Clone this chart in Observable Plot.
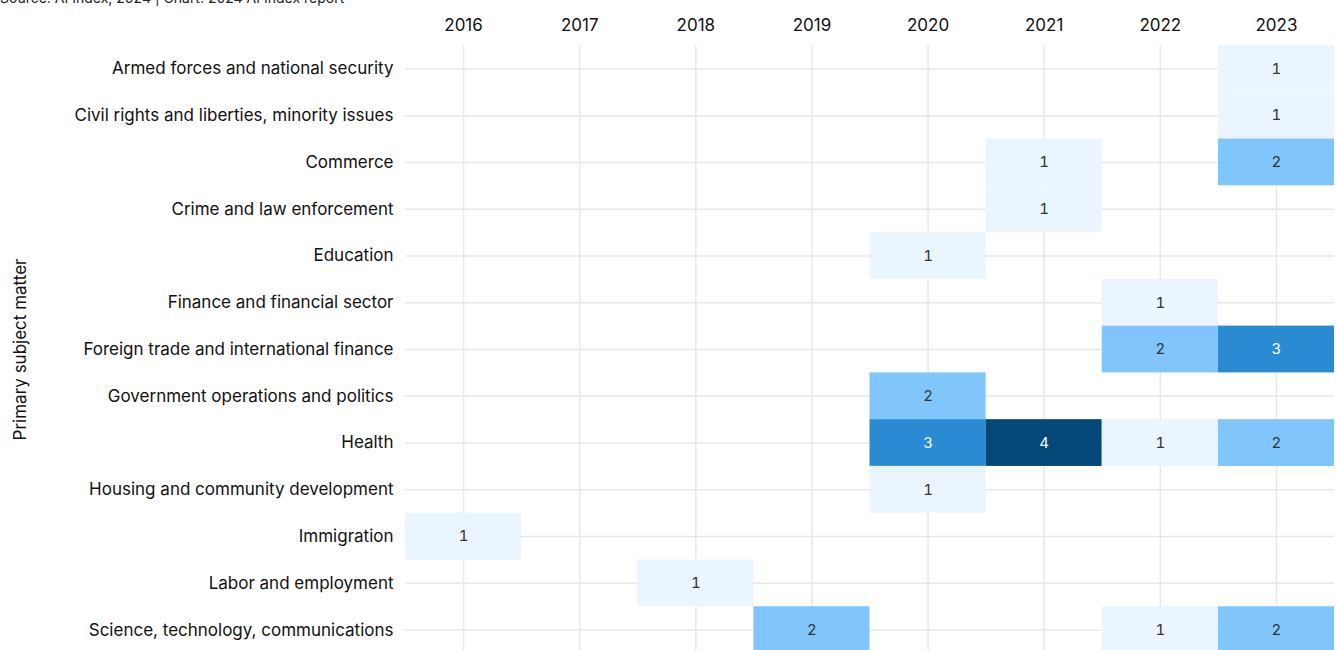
<!DOCTYPE html>
<html>
<head>
<meta charset="utf-8">
<script src="https://cdn.jsdelivr.net/npm/d3@7"></script>
<script src="https://cdn.jsdelivr.net/npm/@observablehq/plot@0.6"></script>
<style>
  html, body { margin: 0; padding: 0; background: #fff; overflow: hidden; }
  body { width: 1336px; height: 650px; position: relative; font-family: Inter, "Noto Sans", sans-serif; }
  #source { position: absolute; left: 0; top: -11px; font-size: 14px; color: #222; white-space: nowrap; }
  #chart { position: absolute; left: 0; top: 0; }
</style>
</head>
<body>
<div id="source">Source: AI Index, 2024 | Chart: 2024 AI Index report</div>
<div id="chart"></div>
<script>
const subjects = [
  "Armed forces and national security",
  "Civil rights and liberties, minority issues",
  "Commerce",
  "Crime and law enforcement",
  "Education",
  "Finance and financial sector",
  "Foreign trade and international finance",
  "Government operations and politics",
  "Health",
  "Housing and community development",
  "Immigration",
  "Labor and employment",
  "Science, technology, communications"
];
const years = ["2016", "2017", "2018", "2019", "2020", "2021", "2022", "2023"];

const cellSubject = [
  "Armed forces and national security",
  "Civil rights and liberties, minority issues",
  "Commerce", "Commerce",
  "Crime and law enforcement",
  "Education",
  "Finance and financial sector",
  "Foreign trade and international finance", "Foreign trade and international finance",
  "Government operations and politics",
  "Health", "Health", "Health", "Health",
  "Housing and community development",
  "Immigration",
  "Labor and employment",
  "Science, technology, communications", "Science, technology, communications", "Science, technology, communications"
];
const cellYear = [
  "2023",
  "2023",
  "2021", "2023",
  "2021",
  "2020",
  "2022",
  "2022", "2023",
  "2020",
  "2020", "2021", "2022", "2023",
  "2020",
  "2016",
  "2018",
  "2019", "2022", "2023"
];
const cellCount = [1, 1, 1, 2, 1, 1, 1, 2, 3, 2, 3, 4, 1, 2, 1, 1, 1, 2, 1, 2];

const data = cellCount.map((c, i) => ({subject: cellSubject[i], year: cellYear[i], count: c}));

const chart = Plot.plot({
  width: 1336,
  height: 653,
  marginTop: 45,
  marginBottom: 0,
  marginLeft: 405,
  marginRight: 2,
  style: {fontFamily: "Inter, 'Noto Sans', sans-serif", fontSize: "17px", color: "#111", background: "transparent"},
  x: {domain: years, padding: 0, round: false, axis: "top", tickSize: 0, tickPadding: 15, label: null},
  y: {domain: subjects, padding: 0, round: false, tickSize: 0, tickPadding: 12, label: "Primary subject matter", labelAnchor: "center", labelOffset: 392, labelArrow: "none"},
  color: {type: "ordinal", domain: [1, 2, 3, 4], range: ["#ebf5ff", "#80c6fc", "#2a8ad2", "#034877"]},
  marks: [
    Plot.gridX(years, {stroke: "#e8e8e8", strokeOpacity: 1, strokeWidth: 1.5}),
    Plot.gridY(subjects, {stroke: "#e8e8e8", strokeOpacity: 1, strokeWidth: 1.5}),
    Plot.cell(data, {x: "year", y: "subject", fill: "count"}),
    Plot.text(data, {x: "year", y: "subject", text: "count", fontSize: 15,
      fill: d => d.count >= 3 ? "#ffffff" : "#333333"})
  ]
});
document.getElementById("chart").appendChild(chart);
</script>
</body>
</html>
